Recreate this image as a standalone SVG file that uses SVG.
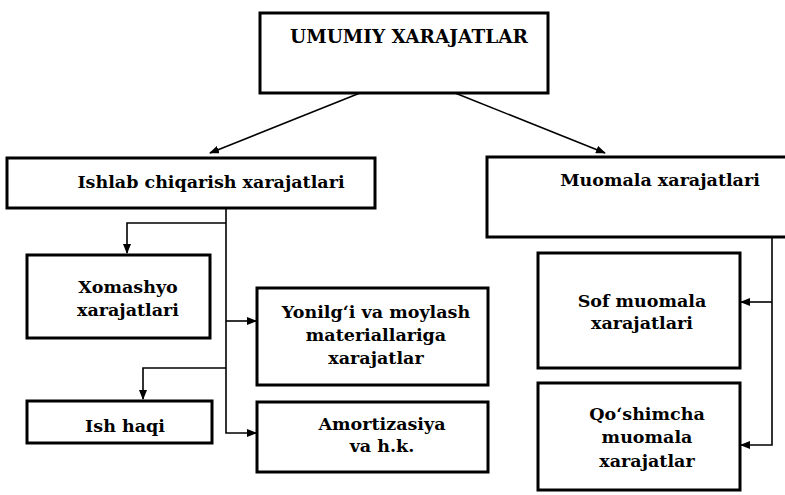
<svg xmlns="http://www.w3.org/2000/svg" width="785" height="495" viewBox="0 0 785 495">
<style>
.box{fill:#fff;stroke:#000;stroke-width:3}
.t{font-family:'DejaVu Serif',serif;font-weight:bold;font-size:17.5px;fill:#000;text-anchor:middle}
.c{fill:none;stroke:#000;stroke-width:1.6}
</style>
<defs>
<marker id="ah" markerWidth="10" markerHeight="8" refX="9" refY="4" orient="auto" markerUnits="userSpaceOnUse">
<path d="M0,0 L10,4 L0,8 Z" fill="#000"/>
</marker>
</defs>
<rect width="785" height="495" fill="#fff"/>
<g id="connectors">
<path class="c" d="M360,93 L210,153" marker-end="url(#ah)"/>
<path class="c" d="M455,93 L605,153" marker-end="url(#ah)"/>
<path class="c" d="M226,208 L226,433 L256,433" marker-end="url(#ah)"/>
<path class="c" d="M226,223 L127,223 L127,253" marker-end="url(#ah)"/>
<path class="c" d="M226,321 L256,321" marker-end="url(#ah)"/>
<path class="c" d="M226,368 L143,368 L143,399" marker-end="url(#ah)"/>
<path class="c" d="M772,237 L772,445 L741,445" marker-end="url(#ah)"/>
<path class="c" d="M772,302 L741,302" marker-end="url(#ah)"/>
</g>
<g id="umumiy">
<rect class="box" x="260" y="13" width="288" height="80"/>
<text class="t" x="409" y="43" style="font-size:18.5px">UMUMIY XARAJATLAR</text>
</g>
<g id="ishlab">
<rect class="box" x="7" y="158" width="368" height="50"/>
<text class="t" x="211" y="188">Ishlab chiqarish xarajatlari</text>
</g>
<g id="muomala">
<rect class="box" x="487" y="157" width="310" height="80"/>
<text class="t" x="660" y="186">Muomala xarajatlari</text>
</g>
<g id="xomashyo">
<rect class="box" x="27" y="255" width="183" height="83"/>
<text class="t" x="128" y="293">Xomashyo</text>
<text class="t" x="128" y="316">xarajatlari</text>
</g>
<g id="yonilgi">
<rect class="box" x="257" y="288" width="231" height="97"/>
<text class="t" x="376" y="318">Yonilg‘i va moylash</text>
<text class="t" x="376" y="341">materiallariga</text>
<text class="t" x="376" y="364">xarajatlar</text>
</g>
<g id="ishhaqi">
<rect class="box" x="27" y="401" width="185" height="42"/>
<text class="t" x="125" y="432">Ish haqi</text>
</g>
<g id="amortizasiya">
<rect class="box" x="257" y="402" width="231" height="70"/>
<text class="t" x="382" y="430">Amortizasiya</text>
<text class="t" x="382" y="452">va h.k.</text>
</g>
<g id="sof">
<rect class="box" x="538" y="253" width="202" height="115"/>
<text class="t" x="642" y="307">Sof muomala</text>
<text class="t" x="642" y="329">xarajatlari</text>
</g>
<g id="qoshimcha">
<rect class="box" x="538" y="383" width="202" height="107"/>
<text class="t" x="647" y="420">Qo‘shimcha</text>
<text class="t" x="647" y="443">muomala</text>
<text class="t" x="647" y="467">xarajatlar</text>
</g>
</svg>
